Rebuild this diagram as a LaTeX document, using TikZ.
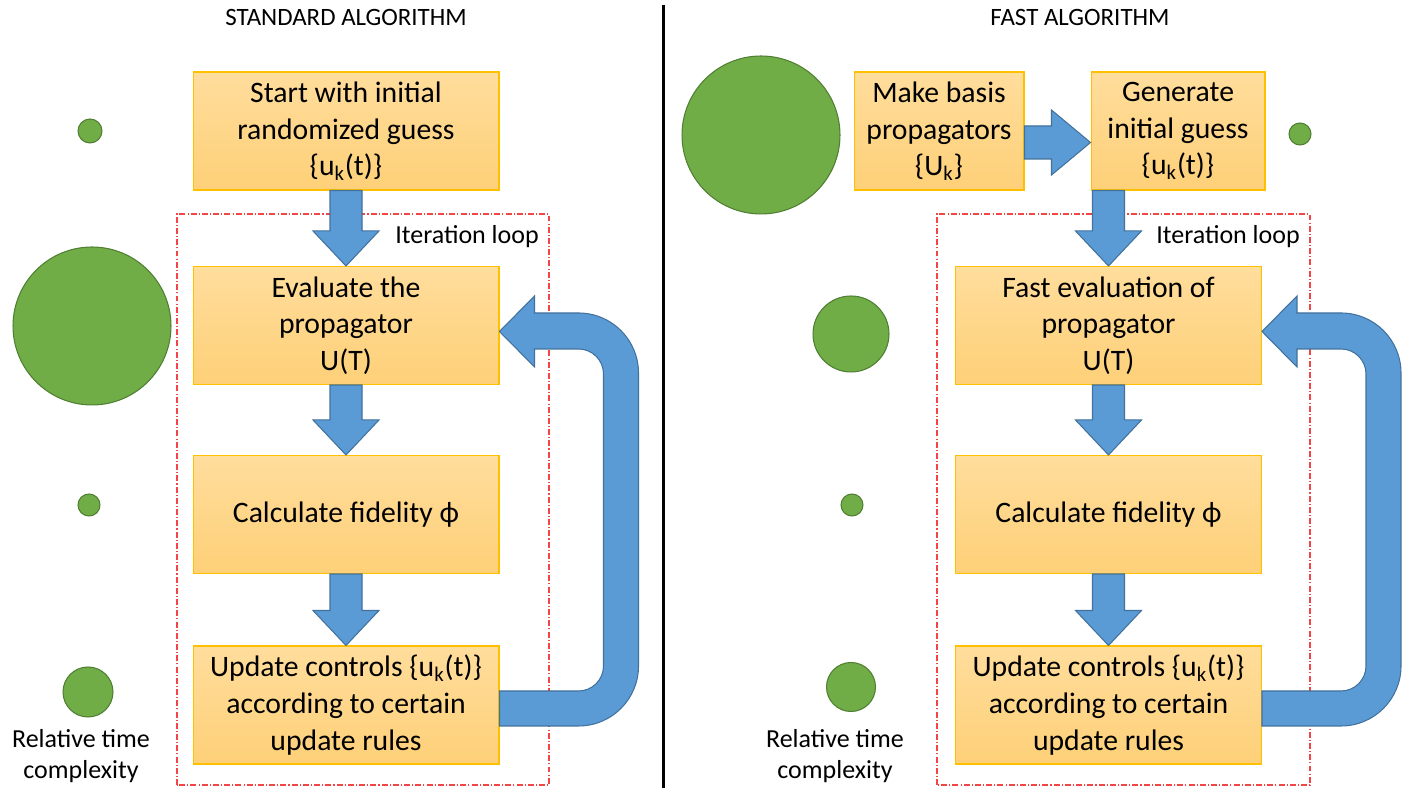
\documentclass[tikz,border=0pt]{standalone}
\usepackage{fontspec}
\setmainfont{Carlito}
\usetikzlibrary{shapes,arrows,positioning,calc}

\definecolor{boxtop}{RGB}{255,221,156}
\definecolor{boxbot}{RGB}{254,208,120}
\definecolor{boxline}{RGB}{255,192,0}
\definecolor{arrblue}{RGB}{91,155,213}
\definecolor{arrline}{RGB}{65,113,156}
\definecolor{costgreen}{RGB}{112,173,71}
\definecolor{costline}{RGB}{80,126,50}
\definecolor{loopred}{RGB}{240,70,70}

% block arrow straight down from #1 to #2
\newcommand{\downarr}[2]{%
  \draw[blockarr] ($(#1.south -| #2.north)+(-16,0)$) -- ($(#2.north)+(-16,35)$) -- ++(-17,0)
    -- (#2.north) -- ($(#2.north)+(33,35)$) -- ++(-17,0)
    -- ($(#1.south -| #2.north)+(16,0)$) -- cycle;}
% U-turn block arrow from #1 back up to #2
\newcommand{\looparr}[2]{%
  \draw[blockarr] ($(#1.east)+(0,-21)$) -- ++(79,0) arc[start angle=-90,end angle=0,radius=60]
    -- ($(#2.east)+(139,-47.5)$) arc[start angle=0,end angle=90,radius=60]
    -- ++(-44,0) -- ++(0,17) -- ($(#2.east)+(0,-6)$) -- ++(35,-35.5) -- ++(0,18) -- ++(44,0)
    arc[start angle=90,end angle=0,radius=25]
    -- ($(#1.east)+(104,39)$) arc[start angle=0,end angle=-90,radius=25]
    -- ($(#1.east)+(0,14)$) -- cycle;}

\begin{document}
\begin{tikzpicture}[x=0.02cm, y=0.02cm]
  \tikzstyle{stage}=[rectangle, draw=boxline, top color=boxtop, bottom color=boxbot, line width=0.6pt, minimum width=6.12cm, minimum height=2.36cm, inner sep=2pt, align=center, font=\fontsize{16.9}{20.8}\selectfont]
  \tikzstyle{cost}=[circle, draw=costline, fill=costgreen, line width=0.6pt, inner sep=0pt]
  \tikzstyle{blockarr}=[fill=arrblue, draw=arrline, line width=0.6pt, line join=miter]
  \tikzstyle{loopframe}=[draw=loopred, line width=0.6pt, dash pattern=on 3.4pt off 1.2pt on 0.6pt off 1.2pt]
  \tikzstyle{note}=[align=center, font=\fontsize{14.8}{17.6}\selectfont]
  \tikzstyle{heading}=[font=\fontsize{14.2}{17}\selectfont]

  \useasboundingbox (0,0) rectangle (1403,793);

  % Titulos y separador
  \node[heading] (tstd) at (346,775) {STANDARD ALGORITHM};
  \node[heading] (tfast) at (1080,775) {FAST ALGORITHM};
  \draw[line width=1.7pt] (663,788) -- (663,5);

  % Marcos del bucle
  \draw[loopframe] (177,8) rectangle (549,579);
  \draw[loopframe] (937,8) rectangle (1310,579);
  \node[note, anchor=east] (itstd) at (545,556) {Iteration loop};
  \node[note, anchor=east] (itfast) at (1306,556) {Iteration loop};

  % Algoritmo estandar
  \node[stage] (s1) at (346,662) {Start with initial\\randomized guess\\\{u\textsubscript{k}(t)\}};
  \node[stage] (s2) at (346,467.5) {Evaluate the\\propagator\\U(T)};
  \node[stage] (s3) at (346,278.5) {Calculate fidelity ϕ};
  \node[stage] (s4) at (346,88) {Update controls \{u\textsubscript{k}(t)\}\\according to certain\\update rules};

  % Algoritmo rapido
  \node[stage, minimum width=3.4cm] (f0) at (939,662) {Make basis\\propagators\\\{U\textsubscript{k}\}};
  \node[stage, minimum width=3.48cm] (f1) at (1178,662) {Generate\\initial guess\\\{u\textsubscript{k}(t)\}};
  \node[stage] (f2) at (1108.5,467.5) {Fast evaluation of\\propagator\\U(T)};
  \node[stage] (f3) at (1108.5,278.5) {Calculate fidelity ϕ};
  \node[stage] (f4) at (1108.5,88) {Update controls \{u\textsubscript{k}(t)\}\\according to certain\\update rules};

  % Complejidad relativa
  \node[cost, minimum size=0.48cm] (c1) at (90,662) {};
  \node[cost, minimum size=3.16cm] (c2) at (92,467) {};
  \node[cost, minimum size=0.44cm] (c3) at (89,288) {};
  \node[cost, minimum size=1cm] (c4) at (88,101) {};
  \node[cost, minimum size=3.16cm] (d0) at (761,658) {};
  \node[cost, minimum size=0.44cm] (d1) at (1300,659) {};
  \node[cost, minimum size=1.52cm] (d2) at (851,459) {};
  \node[cost, minimum size=0.44cm] (d3) at (852,288) {};
  \node[cost, minimum size=0.98cm] (d4) at (851,106) {};
  \node[note] (rstd) at (81,36.5) {Relative time\\complexity};
  \node[note] (rfast) at (835,36.5) {Relative time\\complexity};

  % Flechas
  \downarr{s1}{s2}
  \downarr{s2}{s3}
  \downarr{s3}{s4}
  \looparr{s4}{s2}
  \draw[blockarr] ($(f0.east)+(0,5)$) -- ($(f1.west)+(-39,5)$) -- ++(0,16) -- ($(f1.west)+(0,-11.5)$)
    -- ($(f1.west)+(-39,-44)$) -- ++(0,16) -- ($(f0.east)+(0,-28)$) -- cycle;
  \downarr{f1}{f2}
  \downarr{f2}{f3}
  \downarr{f3}{f4}
  \looparr{f4}{f2}
\end{tikzpicture}
\end{document}
